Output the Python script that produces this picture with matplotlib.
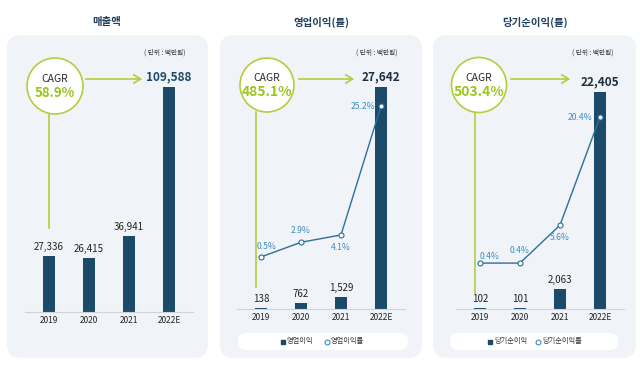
import matplotlib
matplotlib.use("Agg")
import matplotlib.pyplot as plt
from matplotlib.patches import FancyBboxPatch, Circle

plt.rcParams['font.family'] = ['Noto Sans CJK KR', 'DejaVu Sans']

# data
years = ['2019', '2020', '2021', '2022E']
sales = [27336, 26415, 36941, 109588]
op_income = [138, 762, 1529, 27642]
op_margin = [0.5, 2.9, 4.1, 25.2]
net_income = [102, 101, 2063, 22405]
net_margin = [0.4, 0.4, 5.6, 20.4]
titles = ['매출액', '영업이익(률)', '당기순이익(률)']
cagr = ['58.9%', '485.1%', '503.4%']
bar_names = [None, '영업이익', '당기순이익']
line_names = [None, '영업이익률', '당기순이익률']

# colours
navy = '#1c4a69'
title_c = '#1f3f5c'
green = '#b3cd3c'
green_txt = '#9cc31e'
blue_line = '#2d6f98'
blue_txt = '#3d8dc2'
box_c = '#f0f3f7'

W, H = 640, 369
fig = plt.figure(figsize=(6.4, 3.69), dpi=100)
fig.patch.set_facecolor('white')

# background layer in pixel coordinates
bg = fig.add_axes([0, 0, 1, 1])
bg.set_xlim(0, W)
bg.set_ylim(H, 0)
bg.axis('off')


def place(left, top, right, bottom):
    return fig.add_axes([left / W, 1 - bottom / H, (right - left) / W, (bottom - top) / H])


# layout per panel (pixels)
panels = [
    dict(box=(7, 35, 208, 358), tx=107, c0=49, base=312, maxtop=87,
         circ=(55, 86, 28), arrow=(83, 145, 79), vline=(49, 114, 228), unit=165),
    dict(box=(220, 35, 422, 358), tx=321, c0=261, base=309, maxtop=87,
         circ=(267, 85, 27), arrow=(296, 357, 79), vline=(256, 112, 287), unit=377,
         zero=260, k=6.11, legend=(238, 408), lg_sq=283, lg_ci=327,
         offs=[(6, 10, 'center'), (0, 12, 'center'), (0, -13, 'center'), (-6, 0, 'right')]),
    dict(box=(433, 35, 636, 358), tx=535, c0=480, base=309, maxtop=92,
         circ=(479, 85, 27.5), arrow=(508, 573, 79), vline=(475, 112, 293), unit=593,
         zero=266, k=7.3, legend=(450, 618), lg_sq=490, lg_ci=538,
         offs=[(10, 7, 'center'), (0, 13, 'center'), (0, -12, 'center'), (-8, 0, 'right')]),
]

bar_series = [sales, op_income, net_income]
line_series = [None, op_margin, net_margin]

for i, p in enumerate(panels):
    x0, y0, x1, y1 = p['box']
    bg.add_patch(FancyBboxPatch((x0, y0), x1 - x0, y1 - y0,
                                boxstyle='round,pad=0,rounding_size=14',
                                fc=box_c, ec='none', zorder=0))
    bg.text(p['tx'], 22, titles[i], ha='center', va='center', fontsize=7.5,
            fontweight='bold', color=title_c)
    bg.text(p['unit'], 53, '( 단위 : 백만원)', ha='center', va='center',
            fontsize=4.8, color='#333333')
    cx, cy, r = p['circ']
    bg.add_patch(Circle((cx, cy), r, fc='white', ec=green, lw=1.2, zorder=2))
    bg.text(cx, cy - 7, 'CAGR', ha='center', va='center', fontsize=7.5,
            fontweight='medium', color='#2a2a2a', zorder=3)
    bg.text(cx, cy + 7, cagr[i], ha='center', va='center', fontsize=10 if i else 9.5,
            fontweight='bold', color=green_txt, zorder=3)
    ax0, ax1, ay = p['arrow']
    bg.annotate('', xy=(ax1, ay), xytext=(ax0, ay),
                arrowprops=dict(arrowstyle='->,head_length=0.5,head_width=0.3',
                                color=green, lw=1.2), zorder=2)
    vx, vy0, vy1 = p['vline']
    bg.plot([vx, vx], [vy0, vy1], color=green, lw=1.2, zorder=1)

    if 'legend' in p:
        lx0, lx1 = p['legend']
        bg.add_patch(FancyBboxPatch((lx0, 333), lx1 - lx0, 17,
                                    boxstyle='round,pad=0,rounding_size=8',
                                    fc='white', ec='none', zorder=1))
        bg.plot([p['lg_sq']], [341.5], 's', ms=3.2, color=navy, zorder=2)
        bg.text(p['lg_sq'] + 4, 341.5, bar_names[i], ha='left', va='center',
                fontsize=5.2, color='#333333', zorder=2)
        bg.plot([p['lg_ci']], [341.5], 'o', ms=3.5, mfc='white', mec=blue_txt,
                mew=0.8, zorder=2)
        bg.text(p['lg_ci'] + 4, 341.5, line_names[i], ha='left', va='center',
                fontsize=5.2, color='#333333', zorder=2)

    # bar axes
    top = 60
    base = p['base']
    ax = place(p['c0'] - 24, top, p['c0'] + 144, base)
    ax.patch.set_alpha(0)
    vals = bar_series[i]
    ymax = max(vals) * (base - top) / (base - p['maxtop'])
    xs = list(range(len(years)))
    ax.bar(xs, vals, width=0.3, color=navy, zorder=2)
    ax.set_xlim(-0.6, 3.6)
    ax.set_ylim(0, ymax)
    for s in ['top', 'right', 'left']:
        ax.spines[s].set_visible(False)
    ax.spines['bottom'].set_color('#ccd3da')
    ax.spines['bottom'].set_linewidth(0.8)
    ax.set_yticks([])
    ax.set_xticks(xs)
    ax.set_xticklabels(years, fontsize=6, color='#222222', fontweight='medium')
    ax.tick_params(axis='x', length=0, pad=3)
    for j, v in enumerate(vals):
        last = j == len(vals) - 1
        ax.annotate(f'{v:,}', (j, v), xytext=(0, 4), textcoords='offset pixels',
                    ha='center', va='bottom',
                    fontsize=8.5 if last else 7,
                    fontweight='bold' if last else 'medium',
                    color=navy if (last and i == 0) else ('#1e2f40' if last else '#222222'))

    if line_series[i] is not None:
        rates = line_series[i]
        k = p['k']
        tw = ax.twinx()
        tw.set_ylim(-(base - p['zero']) / k, (p['zero'] - top) / k)
        tw.axis('off')
        tw.plot(xs, rates, color=blue_line, lw=1.0, marker='o', ms=3.6,
                mfc='white', mec=blue_line, mew=0.8, zorder=3)
        for j, v in enumerate(rates):
            dx, dy, ha = p['offs'][j]
            tw.annotate(f'{v}%', (j, v), xytext=(dx, dy), textcoords='offset pixels',
                        ha=ha, va='center', fontsize=6.2, color=blue_txt)

fig.savefig('out.png', dpi=100)
